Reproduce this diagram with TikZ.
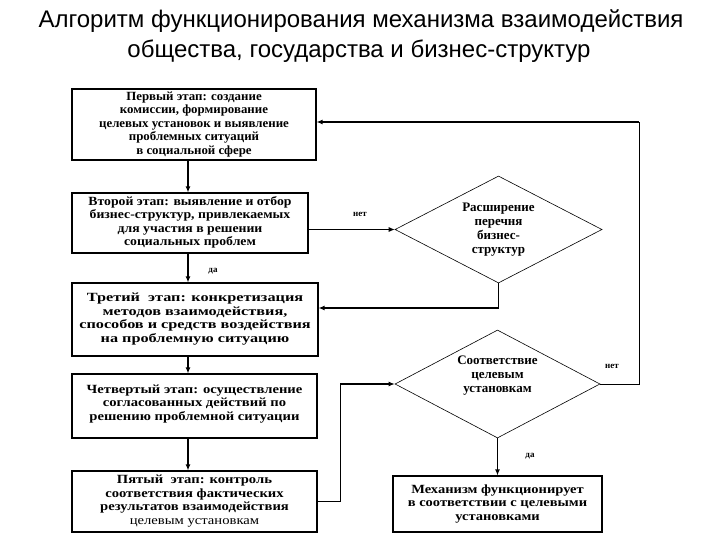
\documentclass[tikz,border=0pt]{standalone}
\usepackage{fontspec}
\usepackage{graphicx}
\setmainfont{Liberation Serif}
\newfontfamily\titlefont{Liberation Sans}
\usetikzlibrary{shapes.geometric,arrows.meta}
\newcommand{\hsq}[2]{\scalebox{#1}[1]{\begin{tabular}{@{}c@{}}#2\end{tabular}}}
\begin{document}
\begin{tikzpicture}[x=1pt,y=-1pt,
  stagebox/.style={draw,line width=1.1pt,inner sep=0pt,align=center,
    font=\bfseries\fontsize{12.5}{13.5}\selectfont},
  decision/.style={draw,diamond,line width=0.6pt,inner sep=0pt,aspect=1.93,align=center,
    font=\bfseries\fontsize{13}{14}\selectfont},
  thk/.style={line width=1.8pt},
  thn/.style={line width=0.9pt},
  tip/.style={-{Latex[length=6pt,width=5pt]}},
  lbl/.style={font=\bfseries\fontsize{9}{10}\selectfont,inner sep=0pt}]
\useasboundingbox (0,0) rectangle (720,540);
\fill[white] (0,0) rectangle (720,540);
% title
\node (t1) at (361,21) {\titlefont\fontsize{24}{28}\selectfont Алгоритм функционирования механизма взаимодействия};
\node (t2) at (359,51) {\titlefont\fontsize{24}{28}\selectfont общества, государства и бизнес-структур};
% boxes
\node[stagebox,minimum width=244pt,minimum height=71pt] (b1) at (194,124.5)
  {\hsq{1.03}{Первый этап: создание\\комиссии, формирование\\целевых установок и выявление\\проблемных ситуаций\\в социальной сфере}};
\node[stagebox,minimum width=236pt,minimum height=60pt] (b2) at (190,223)
  {\hsq{1.1}{Второй этап: выявление и отбор\\бизнес-структур, привлекаемых\\для участия в решении\\социальных проблем}};
\node[stagebox,minimum width=246pt,minimum height=73pt] (b3) at (195,319.5)
  {\hsq{1.3}{Третий\ \ этап: конкретизация\\методов взаимодействия,\\способов и средств воздействия\\на проблемную ситуацию}};
\node[stagebox,minimum width=245pt,minimum height=64pt] (b4) at (194.5,406)
  {\hsq{1.17}{Четвертый этап: осуществление\\согласованных действий по\\решению проблемной ситуации\\[4pt]}};
\node[stagebox,minimum width=245pt,minimum height=61pt] (b5) at (194.5,501.5)
  {\hsq{1.17}{Пятый\ \ этап: контроль\\соответствия фактических\\результатов взаимодействия\\{\mdseries целевым установкам}}};
\node[decision,minimum width=207pt,minimum height=107pt] (d1) at (498.5,229.5)
  {Расширение\\перечня\\бизнес-\\структур};
\node[decision,minimum width=205pt,minimum height=108pt] (d2) at (497.5,384)
  {Соответствие\\целевым\\установкам\\[6pt]};
\node[stagebox,minimum width=209pt,minimum height=56pt] (b6) at (497.5,504)
  {\hsq{1.16}{Механизм функционирует\\в соответствии с целевыми\\установками}};
% helper coordinates
\coordinate (ax) at (188,0);
\coordinate (j1) at (498.5,308);
\coordinate (c2) at (639,122);
\coordinate (c3) at (340,384);
% vertical chain
\draw[thk,tip] (b1.south -| ax) -- (b2.north -| ax);
\draw[thk,tip] (b2.south -| ax) -- (b3.north -| ax);
\draw[thk,tip] (b3.south -| ax) -- (b4.north -| ax);
\draw[thk,tip] (b4.south -| ax) -- (b5.north -| ax);
% b2 -> d1 (нет)
\draw[thn,tip] (b2.east |- d1.west) -- (d1.west);
% d1 -> b3
\draw[thn] (d1.south) -- (j1);
\draw[thk,tip] (j1) -- (b3.east |- j1);
% d2 -> b1 (нет)
\draw[thn] (d2.east) -- (d2.east -| c2) -- (c2);
\draw[thk,tip] (c2) -- (b1.east |- c2);
% b5 -> d2
\draw[thn] (b5.east) -| (c3);
\draw[thk,tip] (c3) -- (d2.west);
% d2 -> b6 (да)
\draw[thk,tip] (d2.south) -- (b6.north);
% labels
\node[lbl] (l1) at (360,214) {нет};
\node[lbl] (l2) at (213,271) {да};
\node[lbl] (l3) at (612,366) {нет};
\node[lbl] (l4) at (530,456) {да};
\end{tikzpicture}
\end{document}
